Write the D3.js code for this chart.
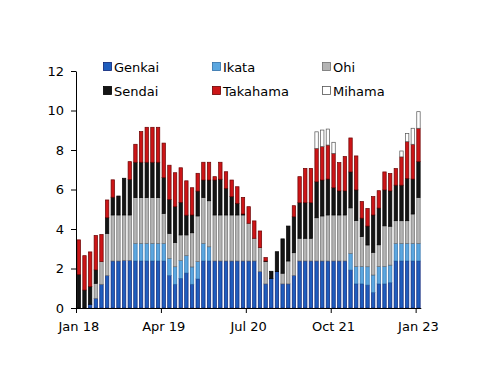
<!DOCTYPE html>
<html lang="en">
<head>
  <meta charset="UTF-8">
  <title>Nuclear output by plant</title>
  <style>
      body{
          margin:0;
          background:#fff;
      }
      svg text{
          font-family:"DejaVu Sans", Verdana, sans-serif;
          font-size:13px;
          fill:#000;
      }
  </style>
</head>
<body>
    <svg width="500" height="386"></svg>
    <script src="https://d3js.org/d3.v7.min.js"></script>
    <script>

        // months, Jan 18 .. Jan 23
        var months = [
            "Jan 18","Feb 18","Mar 18","Apr 18","May 18","Jun 18","Jul 18","Aug 18","Sep 18","Oct 18","Nov 18","Dec 18",
            "Jan 19","Feb 19","Mar 19","Apr 19","May 19","Jun 19","Jul 19","Aug 19","Sep 19","Oct 19","Nov 19","Dec 19",
            "Jan 20","Feb 20","Mar 20","Apr 20","May 20","Jun 20","Jul 20","Aug 20","Sep 20","Oct 20","Nov 20","Dec 20",
            "Jan 21","Feb 21","Mar 21","Apr 21","May 21","Jun 21","Jul 21","Aug 21","Sep 21","Oct 21","Nov 21","Dec 21",
            "Jan 22","Feb 22","Mar 22","Apr 22","May 22","Jun 22","Jul 22","Aug 22","Sep 22","Oct 22","Nov 22","Dec 22",
            "Jan 23"
        ];

        var genkai = [
            0,0,0.19,0.49,1.2,1.64,2.38,2.38,2.41,2.41,2.38,2.38,
            2.38,2.38,2.38,2.38,1.64,1.2,1.5,1.77,1.2,1.47,2.38,2.38,
            2.38,2.38,2.38,2.38,2.38,2.38,2.38,2.38,1.84,1.22,1.5,1.84,
            1.22,1.22,1.65,2.38,2.38,2.38,2.38,2.38,2.38,2.38,2.38,2.38,
            1.92,1.22,1.22,1.16,0.78,1.22,1.22,1.28,2.38,2.38,2.38,2.38,
            2.38
        ];
        var ikata = [
            0,0,0,0,0,0,0,0,0,0,0.89,0.89,
            0.89,0.89,0.89,0.89,0.87,0.89,0.9,0.88,0.88,0.88,0.89,0.72,
            0,0,0,0,0,0,0,0,0,0,0,0,
            0,0,0,0,0,0,0,0,0,0,0,0,
            0.84,0.88,0.88,0.93,0.89,0.88,0.88,0.89,0.89,0.89,0.89,0.89,
            0.89
        ];
        var ohi = [
            0,0,0,0.76,1.15,2.14,2.33,2.33,2.3,2.3,2.32,2.32,
            2.32,2.32,2.32,1.52,1.27,1.23,1.3,1.05,1.73,2.31,2.33,2.33,
            2.33,2.33,2.33,2.33,2.33,2.33,1.91,1.15,1.22,1.13,0,0,
            0.54,1.16,1.15,1.15,1.15,1.15,2.19,2.28,2.33,2.33,2.33,2.33,
            2.31,2.33,1.52,1.1,1.15,1.1,2.06,1.97,1.15,1.15,1.15,1.49,
            2.33
        ];
        var sendai = [
            1.69,0.91,0.89,0.68,0,0.79,0.9,0.96,1.86,1.8,1.79,1.79,
            1.79,1.79,1.79,1.81,1.72,1.81,1.65,1.0,0.9,1.26,0.88,1.05,
            1.77,1.81,1.35,0.93,0.59,0.05,0,0,0,0.03,0.36,1.01,
            1.74,1.77,1.82,1.8,1.8,1.8,1.82,1.82,1.82,1.38,1.22,1.22,
            1.82,1.55,0.93,0.96,1.89,1.86,1.82,1.79,1.8,1.8,2.14,1.77,
            1.81
        ];
        var takahama = [
            1.76,1.74,1.76,1.74,1.37,0.9,0.88,0,0,0.9,0.91,1.55,
            1.77,1.77,1.77,1.75,1.73,1.72,1.75,1.74,1.38,0.9,0.9,0.9,
            0.17,0.86,0.84,0.84,0.84,0.84,0.84,0.88,0.84,0.17,0,0,
            0,0,0.56,1.32,1.74,1.74,1.69,1.69,1.72,1.74,1.43,1.74,
            1.72,1.72,0.84,0.89,0.93,0.88,0.91,0.88,0.84,1.43,1.86,1.76,
            1.69
        ];
        var mihama = [
            0,0,0,0,0,0,0,0,0,0,0,0,
            0,0,0,0,0,0,0,0,0,0,0,0,
            0,0,0,0,0,0,0,0,0,0,0,0,
            0,0,0,0,0,0,0.84,0.84,0.81,0.56,0,0,
            0,0,0,0,0,0,0,0,0,0.3,0.42,0.81,
            0.84
        ];

        var keys = ["Genkai", "Ikata", "Ohi", "Sendai", "Takahama", "Mihama"];
        var seriesValues = [genkai, ikata, ohi, sendai, takahama, mihama];
        var yTicks = [0, 2, 4, 6, 8, 10, 12];
        var xTickLabels = ["Jan 18", "Apr 19", "Jul 20", "Oct 21", "Jan 23"];

        var fills   = {Genkai:"#1f5dbd", Ikata:"#5ba7e0", Ohi:"#b4b4b4", Sendai:"#151515", Takahama:"#cc1517", Mihama:"#ffffff"};
        var strokes = {Genkai:"#0b2275", Ikata:"#2f6ea8", Ohi:"#6f6f6f", Sendai:"#000000", Takahama:"#6a0000", Mihama:"#555555"};

        var data = months.map(function(m, i) {
            var row = {month: m};
            keys.forEach(function(k, j) { row[k] = seriesValues[j][i]; });
            return row;
        });

        var svg = d3.select("svg");

        var x = d3.scaleBand()
            .domain(months)
            .range([76, 421.3])
            .paddingInner(0.4)
            .paddingOuter(0.2);

        var y = d3.scaleLinear()
            .domain([0, 12])
            .range([308, 71]);

        var stacked = d3.stack().keys(keys)(data);

        svg.append("g")
            .selectAll("g")
            .data(stacked)
            .enter().append("g")
            .attr("fill", function(d) { return fills[d.key]; })
            .attr("stroke", function(d) { return strokes[d.key]; })
            .attr("stroke-width", 0.7)
            .selectAll("rect")
            .data(function(d) { return d.filter(function(s) { return s[1] - s[0] > 0.001; }); })
            .enter().append("rect")
            .attr("x", function(d) { return x(d.data.month); })
            .attr("y", function(d) { return y(d[1]); })
            .attr("width", x.bandwidth())
            .attr("height", function(d) { return y(d[0]) - y(d[1]); });

        // y axis
        var yAxis = svg.append("g")
            .attr("transform", "translate(76,0)")
            .call(d3.axisLeft(y).tickValues(yTicks).tickSize(5).tickSizeOuter(0).tickPadding(7));
        yAxis.selectAll("text").style("font-size", "13px").attr("font-family", null);
        yAxis.select(".domain").attr("stroke", "#000");

        // x axis: ticks sit on category boundaries, labels on the category centres
        var step = x.step();
        var x0 = x.range()[0];
        var xAxis = svg.append("g");
        xAxis.append("line")
            .attr("x1", x0).attr("x2", x.range()[1])
            .attr("y1", 308.5).attr("y2", 308.5)
            .attr("stroke", "#000");
        xAxis.selectAll(".tick")
            .data(xTickLabels)
            .enter().append("line")
            .attr("x1", function(d) { return x0 + months.indexOf(d) * step + 0.5; })
            .attr("x2", function(d) { return x0 + months.indexOf(d) * step + 0.5; })
            .attr("y1", 308).attr("y2", 313)
            .attr("stroke", "#000");
        xAxis.selectAll("text")
            .data(xTickLabels)
            .enter().append("text")
            .attr("x", function(d) { return x0 + (months.indexOf(d) + 0.5) * step; })
            .attr("y", 331)
            .attr("text-anchor", "middle")
            .text(function(d) { return d; });

        // legend, 3 columns x 2 rows
        var legendCols = [103, 212, 322];
        var legendRows = [67, 91];
        var legend = svg.append("g")
            .selectAll("g")
            .data(keys)
            .enter().append("g")
            .attr("transform", function(d, i) {
                return "translate(" + legendCols[i % 3] + "," + legendRows[Math.floor(i / 3)] + ")";
            });
        legend.append("rect")
            .attr("x", 0.5).attr("y", -4.5)
            .attr("width", 8).attr("height", 8)
            .attr("fill", function(d) { return fills[d]; })
            .attr("stroke", function(d) { return d === "Mihama" ? "#555" : strokes[d]; })
            .attr("stroke-width", 0.8);
        legend.append("text")
            .attr("x", 11)
            .attr("y", 0)
            .attr("dy", "0.35em")
            .text(function(d) { return d; });

    </script>
</body>
</html>
